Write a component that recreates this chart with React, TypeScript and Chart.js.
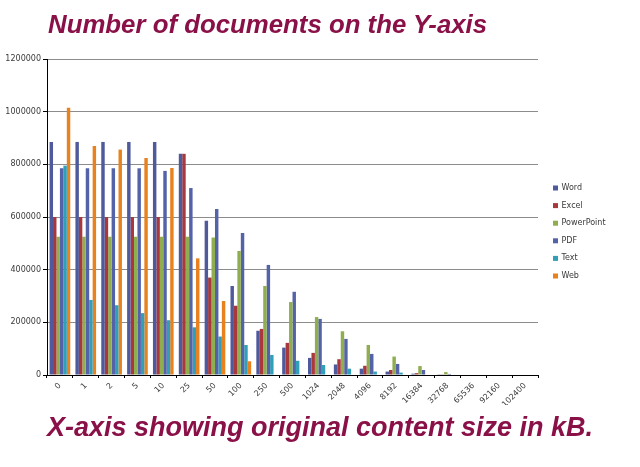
import React, { useEffect, useRef } from "react";
import { Chart, registerables } from "chart.js";

Chart.register(...registerables);

const categories = ["0", "1", "2", "5", "10", "25", "50", "100", "250", "500", "1024", "2048", "4096", "8192", "16384", "32768", "65536", "92160", "102400"];

const word = [885000, 885000, 885000, 885000, 885000, 840000, 586000, 338000, 168000, 104000, 65000, 40000, 24000, 13000, 5000, 1000, 0, 0, 0];
const excel = [600000, 600000, 600000, 600000, 600000, 840000, 370000, 263000, 175000, 122000, 84000, 60000, 35000, 19000, 7000, 1000, 0, 0, 0];
const powerPoint = [525000, 525000, 525000, 525000, 525000, 525000, 522000, 471000, 338000, 277000, 220000, 166000, 114000, 70000, 34000, 11000, 0, 0, 0];
const pdf = [785000, 785000, 785000, 785000, 775000, 710000, 630000, 539000, 418000, 316000, 213000, 137000, 80000, 42000, 19000, 4000, 0, 0, 0];
const text = [795000, 285000, 265000, 235000, 208000, 181000, 146000, 114000, 76000, 54000, 38000, 24000, 13000, 9000, 2000, 0, 0, 0, 0];
const web = [1015000, 870000, 856000, 824000, 786000, 443000, 281000, 52000, 0, 0, 0, 0, 0, 0, 0, 0, 0, 0, 0];

const seriesNames = ["Word", "Excel", "PowerPoint", "PDF", "Text", "Web"];
const seriesColors = ["#4f5a9c", "#a8383b", "#8fae4f", "#5462a8", "#329fb8", "#e8821f"];

const titleText = "Number of documents on the Y-axis";
const footerText = "X-axis showing original content size in kB.";

const yMax = 1200000;
const yStep = 200000;

const tickFont = { family: '"DejaVu Sans", sans-serif', size: 8 };
const tickColor = "#3a3a3a";

const sideLegend = {
  id: "sideLegend",
  afterDraw(chart: any) {
    const { ctx, chartArea } = chart;
    const x0 = chartArea.right + 15;
    const y0 = chartArea.top + 129;
    const step = 17.6;
    ctx.save();
    ctx.font = '8px "DejaVu Sans", sans-serif';
    ctx.textBaseline = "middle";
    ctx.textAlign = "left";
    chart.data.datasets.forEach((ds: any, i: number) => {
      const y = y0 + i * step;
      ctx.fillStyle = ds.backgroundColor;
      ctx.fillRect(x0, y - 2.5, 5, 5);
      ctx.fillStyle = tickColor;
      ctx.fillText(ds.label, x0 + 8.5, y);
    });
    ctx.restore();
  },
};

export default function App() {
  const canvasRef = useRef<HTMLCanvasElement | null>(null);

  useEffect(() => {
    if (!canvasRef.current) return;
    const values = [word, excel, powerPoint, pdf, text, web];
    const chart = new Chart(canvasRef.current, {
      type: "bar",
      data: {
        labels: categories,
        datasets: values.map((v, i) => ({
          label: seriesNames[i],
          data: v,
          backgroundColor: seriesColors[i],
          borderWidth: 0,
          barPercentage: 1,
          categoryPercentage: 0.8,
        })),
      },
      options: {
        responsive: false,
        animation: false,
        devicePixelRatio: 1,
        layout: { padding: { left: 3, right: 102, top: 59, bottom: 62 } },
        plugins: {
          legend: { display: false },
          tooltip: { enabled: false },
          title: { display: false },
        },
        scales: {
          x: {
            offset: true,
            grid: {
              display: true,
              offset: true,
              drawOnChartArea: false,
              drawTicks: true,
              tickLength: 3,
              color: "#000",
            },
            border: { color: "#000", width: 1 },
            ticks: {
              minRotation: 45,
              maxRotation: 45,
              autoSkip: false,
              font: tickFont,
              color: tickColor,
              padding: 3,
            },
            afterFit(s: any) {
              s.height = 30;
            },
          },
          y: {
            min: 0,
            max: yMax,
            ticks: {
              stepSize: yStep,
              font: tickFont,
              color: tickColor,
              padding: 2,
              callback: (v: any) => String(v),
            },
            grid: { color: "#8c8c8c", tickLength: 4, tickColor: "#000" },
            border: { color: "#000", width: 1 },
            afterFit(s: any) {
              s.width = 44;
            },
          },
        },
      },
      plugins: [sideLegend],
    });
    return () => chart.destroy();
  }, []);

  const headingStyle: React.CSSProperties = {
    position: "absolute",
    left: 48,
    margin: 0,
    fontFamily: '"Liberation Sans", Arial, sans-serif',
    fontWeight: "bold",
    fontStyle: "italic",
    color: "#8a1048",
    whiteSpace: "nowrap",
  };

  return (
    <div style={{ position: "fixed", left: 0, top: 0, width: 640, height: 467, background: "#fff", overflow: "hidden" }}>
      <canvas ref={canvasRef} width={640} height={467} style={{ position: "absolute", left: 0, top: 0, width: 640, height: 467 }} />
      <div style={{ ...headingStyle, top: 11, fontSize: 25.8, lineHeight: "26px" }}>{titleText}</div>
      <div style={{ ...headingStyle, left: 47, top: 414, fontSize: 27, lineHeight: "27px" }}>{footerText}</div>
    </div>
  );
}
